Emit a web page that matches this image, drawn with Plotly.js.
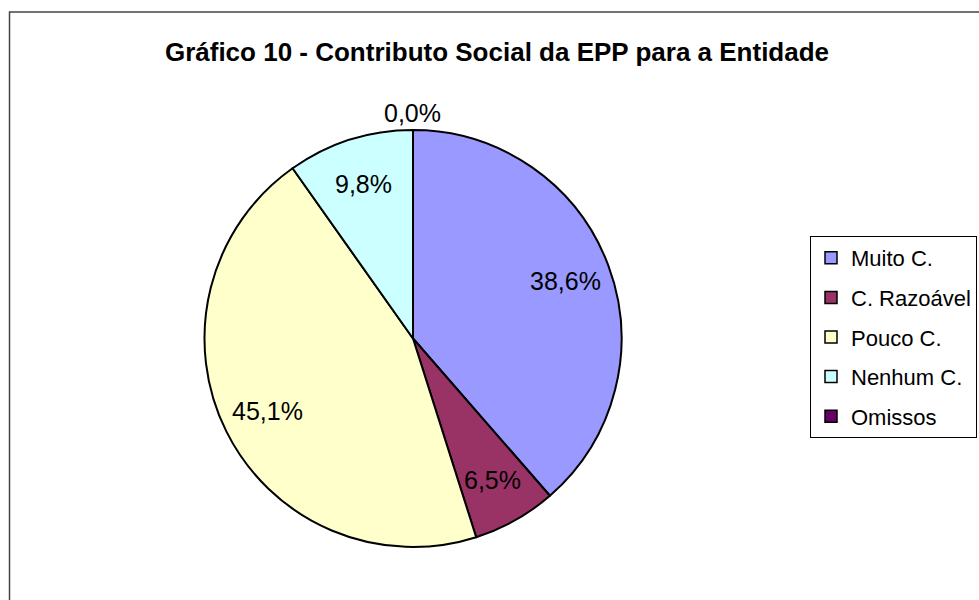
<!DOCTYPE html>
<html>
<head>
<meta charset="utf-8">
<script src="https://cdn.plot.ly/plotly-3.0.1.min.js"></script>
<style>html,body{margin:0;padding:0;background:#fff;}#chart{width:979px;height:600px;}</style>
</head>
<body>
<div id="chart"></div>
<script>
const categories = ["Muito C.", "C. Razoável", "Pouco C.", "Nenhum C.", "Omissos"];
const values = [38.6, 6.5, 45.1, 9.8, 0.0];
const colors = ["#9999FF", "#993366", "#FFFFCC", "#CCFFFF", "#660066"];
const titleText = "Gráfico 10 - Contributo Social da EPP para a Entidade";

const W = 979, H = 600;
const font = "Arial, 'Liberation Sans', sans-serif";

// pie domain (paper fractions)
const domX = [204 / W, 622 / W];
const domY = [1 - 547 / H, 1 - 130 / H];

const pie = {
  type: "pie",
  labels: categories,
  values: values,
  sort: false,
  direction: "clockwise",
  rotation: 0,
  marker: {colors: colors, line: {color: "#000000", width: 2}},
  textinfo: "none",
  showlegend: false,
  hoverinfo: "label+percent",
  domain: {x: domX, y: domY}
};

// data labels placed along each slice's mid-angle (Excel-style placement)
const total = values.reduce((a, b) => a + b, 0);
const cxp = (domX[0] + domX[1]) / 2, cyp = (domY[0] + domY[1]) / 2;
const Rpx = Math.min((domX[1] - domX[0]) * W, (domY[1] - domY[0]) * H) / 2;
let cum = 0;
const labelAnnots = values.map((v) => {
  const frac = (cum + v / 2) / total;
  cum += v;
  const th = 2 * Math.PI * frac;
  const r = v === 0 ? Rpx + 17 : Rpx * 0.78;
  return {
    xref: "paper", yref: "paper",
    x: cxp + r * Math.sin(th) / W,
    y: cyp + r * Math.cos(th) / H,
    xanchor: "center", yanchor: "middle",
    text: (v / total * 100).toFixed(1).replace(".", ",") + "%",
    showarrow: false,
    font: {family: font, size: 25, color: "#000000"}
  };
});

const legendTraces = categories.map((c, i) => ({
  type: "scatter",
  mode: "markers",
  x: [null], y: [null],
  name: c,
  legendgroup: "g" + i,
  marker: {symbol: "square", size: 12, color: colors[i], line: {color: "#000000", width: 1.5}},
  hoverinfo: "skip"
}));

const layout = {
  width: W, height: H,
  margin: {l: 0, r: 0, t: 0, b: 0},
  paper_bgcolor: "#ffffff",
  plot_bgcolor: "rgba(0,0,0,0)",
  separators: ",.",
  font: {family: font, color: "#000000"},
  title: {
    text: "<b>" + titleText + "</b>",
    font: {family: font, size: 26, color: "#000000"},
    x: 497 / W, xanchor: "center",
    y: 1 - 52 / H, yanchor: "middle",
    xref: "paper", yref: "paper"
  },
  xaxis: {visible: false},
  yaxis: {visible: false},
  showlegend: true,
  legend: {
    x: 810 / W, xanchor: "left",
    y: 1 - 236 / H, yanchor: "top",
    bordercolor: "#000000", borderwidth: 1,
    bgcolor: "#ffffff",
    font: {family: font, size: 22, color: "#000000"},
    traceorder: "grouped",
    tracegroupgap: 8,
    itemclick: false, itemdoubleclick: false
  },
  annotations: labelAnnots,
  shapes: [{
    type: "rect", xref: "paper", yref: "paper",
    x0: 9.5 / W, x1: 1.05, y0: -0.05, y1: 1 - 12 / H,
    line: {color: "#444444", width: 1.5}, layer: "below"
  }]
};

Plotly.newPlot("chart", [pie].concat(legendTraces), layout, {displayModeBar: false, staticPlot: true});
</script>
</body>
</html>
